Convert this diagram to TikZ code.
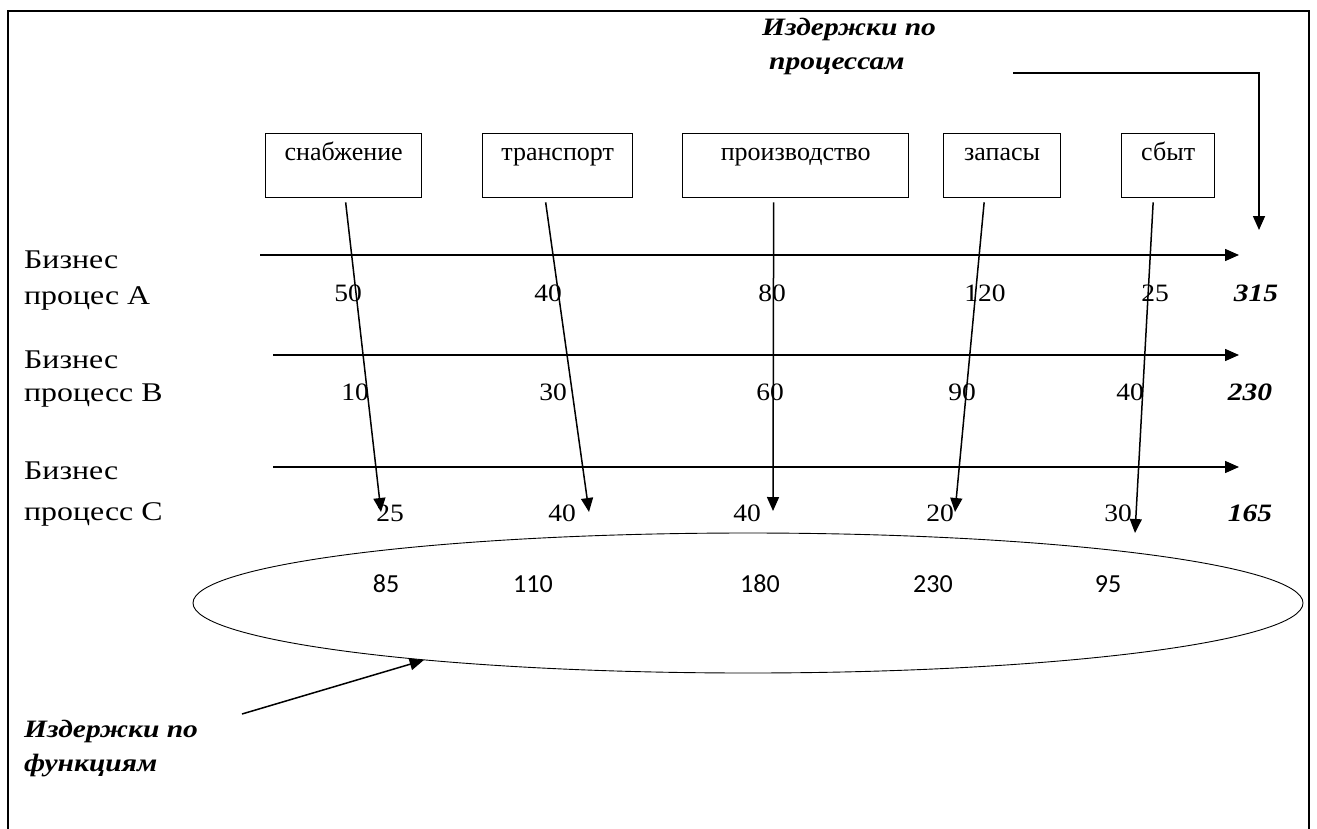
\documentclass[tikz,border=0pt]{standalone}
\usepackage{fontspec}
\setmainfont{Liberation Serif}
\newfontfamily\widefont[FakeStretch=1.18]{Liberation Serif}
\newfontfamily\numfont[FakeStretch=1.1]{Liberation Serif}
\newfontfamily\calibrifont{Carlito}
\usetikzlibrary{arrows.meta,shapes.geometric}

\tikzset{
  funcbox/.style={draw, line width=1.3pt, anchor=north west, align=center,
    inner xsep=0pt, inner ysep=0pt, text height=27pt, text depth=37pt,
    font=\fontsize{26}{30}\selectfont},
  rowlabel/.style={anchor=north west, align=left, inner sep=0pt,
    font=\widefont\fontsize{27}{33}\selectfont},
  val/.style={anchor=base, inner sep=0pt, font=\numfont\fontsize{25}{30}\selectfont},
  total/.style={anchor=base, inner sep=0pt,
    font=\widefont\fontsize{25}{30}\selectfont\bfseries\itshape},
  note/.style={anchor=north west, align=left, inner sep=0pt,
    font=\widefont\fontsize{25}{34}\selectfont\bfseries\itshape},
  sumval/.style={anchor=base, inner sep=0pt, font=\calibrifont\fontsize{26}{30}\selectfont},
  flow/.style={line width=1.5pt, -{Triangle[length=14pt, width=12pt]}},
}

\begin{document}
\begin{tikzpicture}[x=1pt, y=-1pt]
  \useasboundingbox (0,0) rectangle (1317,828);
  % frame
  \draw[line width=1.6pt] (8,840) -- (8,11) -- (1309,11) -- (1309,840);

  % captions
  \node[note] (procnote) at (762,18) {Издержки по\\\hspace*{7pt}процессам};
  \node[note] (funcnote) at (24,720) {Издержки по\\функциям};

  % function boxes
  \node[funcbox, text width=156pt] (snab)   at (265,133) {снабжение};
  \node[funcbox, text width=150pt] (trans)  at (482,133) {транспорт};
  \node[funcbox, text width=226pt] (proizv) at (682,133) {производство};
  \node[funcbox, text width=117pt] (zapas)  at (943,133) {запасы};
  \node[funcbox, text width=93pt]  (sbyt)   at (1121,133) {сбыт};

  % process labels
  \node[rowlabel] (procA) at (24,251) {Бизнес\\[3pt]процес А};
  \node[rowlabel] (procB) at (24,351) {Бизнес\\процесс В};
  \node[rowlabel] (procC) at (24,462) {Бизнес\\[8pt]процесс С};

  % process arrows
  \coordinate (aS) at (260,255);  \coordinate (aE) at (1239,255);
  \coordinate (bS) at (273,355);  \coordinate (bE) at (1239,355);
  \coordinate (cS) at (273,467);  \coordinate (cE) at (1239,467);
  \draw[flow] (aS) -- (aE);
  \draw[flow] (bS) -- (bE);
  \draw[flow] (cS) -- (cE);

  % values
  \node[val] (a1) at (348,301) {50};
  \node[val] (a2) at (548,301) {40};
  \node[val] (a3) at (772,301) {80};
  \node[val] (a4) at (985,301) {120};
  \node[val] (a5) at (1155,301) {25};
  \node[total] (aT) at (1256,301) {315};

  \node[val] (b1) at (355,400) {10};
  \node[val] (b2) at (553,400) {30};
  \node[val] (b3) at (770,400) {60};
  \node[val] (b4) at (962,400) {90};
  \node[val] (b5) at (1130,400) {40};
  \node[total] (bT) at (1250,400) {230};

  \node[val] (c1) at (390,521) {25};
  \node[val] (c2) at (562,521) {40};
  \node[val] (c3) at (747,521) {40};
  \node[val] (c4) at (940,521) {20};
  \node[val] (c5) at (1118,521) {30};
  \node[total] (cT) at (1250,521) {165};

  % function arrows
  \coordinate (snabE)   at (381,512);
  \coordinate (transE)  at (589,512);
  \coordinate (proizvE) at (773,511);
  \coordinate (zapasE)  at (955,512);
  \coordinate (sbytE)   at (1135,533);
  \draw[flow] ([xshift=2pt, yshift=-4pt]snab.south)  -- (snabE);
  \draw[flow] ([xshift=-12pt, yshift=-4pt]trans.south) -- (transE);
  \draw[flow] ([xshift=-22pt, yshift=-4pt]proizv.south) -- (proizvE);
  \draw[flow] ([xshift=-18pt, yshift=-4pt]zapas.south) -- (zapasE);
  \draw[flow] ([xshift=-15pt, yshift=-4pt]sbyt.south) -- (sbytE);

  % summary ellipse
  \node[draw, ellipse, line width=0.9pt, inner sep=0pt,
        minimum width=1110pt, minimum height=140pt] (funcsum) at (748,603) {};
  \node[sumval] (s1) at (386,592) {85};
  \node[sumval] (s2) at (533,592) {110};
  \node[sumval] (s3) at (760,592) {180};
  \node[sumval] (s4) at (933,592) {230};
  \node[sumval] (s5) at (1108,592) {95};

  % pointers
  \coordinate (procstart) at (1013,73);
  \coordinate (proctip) at (1259,230);
  \draw[flow] (procstart) -| (proctip);
  \coordinate (funcstart) at (242,714);
  \draw[flow] (funcstart) -- (funcsum.190);
\end{tikzpicture}
\end{document}
